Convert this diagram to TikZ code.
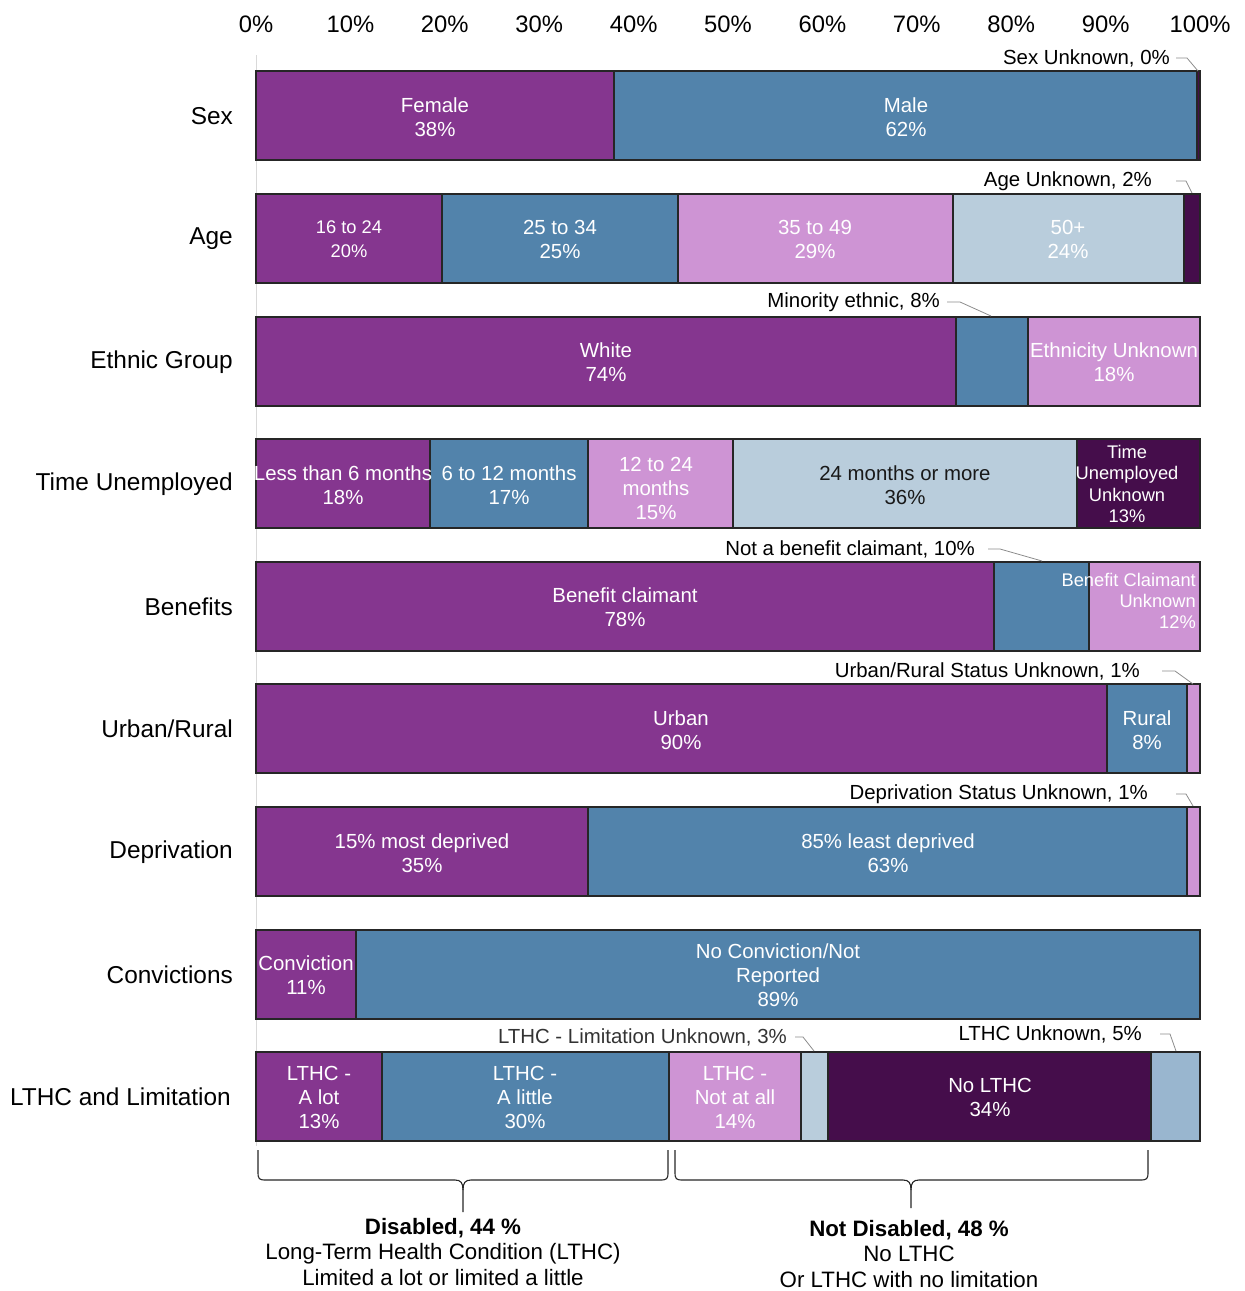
\documentclass[tikz,border=0pt]{standalone}
\usepackage{fontspec}
\setmainfont{Liberation Sans}
\definecolor{cP}{HTML}{85368F}
\definecolor{cB}{HTML}{5283AB}
\definecolor{cL}{HTML}{CE94D4}
\definecolor{cLB}{HTML}{B9CDDC}
\definecolor{cDP}{HTML}{450D4B}
\definecolor{cLU}{HTML}{99B6CF}
\newcommand\sgm[4]{\filldraw[seg,fill=#4] (#1,#3) rectangle (#2,#3+89);}
\begin{document}
\begin{tikzpicture}[x=1pt,y=-1pt,
  seg/.style={draw=black!85,line width=1.1pt},
  lab/.style={text=white,align=center,inner sep=0pt,font=\fontsize{20.4}{24}\selectfont},
  slab/.style={text=white,align=center,inner sep=0pt,font=\fontsize{18.3}{21.4}\selectfont},
  ann/.style={inner sep=0pt,font=\fontsize{20.4}{24}\selectfont,anchor=east},
  cat/.style={inner sep=0pt,font=\fontsize{24.4}{28}\selectfont,anchor=east},
  axl/.style={inner sep=0pt,font=\fontsize{23.8}{28}\selectfont},
  leader/.style={draw=black!45,line width=0.8pt},
  bracel/.style={draw=black!85,line width=1.1pt},
  foot/.style={inner sep=0pt,align=center,font=\fontsize{22.3}{25.5}\selectfont},
]
\useasboundingbox (0,0) rectangle (1245,1291);
% axis
\draw[black!15,line width=1pt] (256,55) -- (256,1146);
\foreach \i/\t in {0/0,1/10,2/20,3/30,4/40,5/50,6/60,7/70,8/80,9/90,10/100}
  \node[axl] (ax\i) at ({256+94.4*\i},24) {\t\%};
% category labels
\node[cat] (cSex) at (233,116) {Sex};
\node[cat] (cAge) at (233,239) {Age};
\node[cat] (cEth) at (233,362) {Ethnic Group};
\node[cat] (cTime) at (233,484) {Time Unemployed};
\node[cat] (cBen) at (233,607) {Benefits};
\node[cat] (cUrb) at (233,729) {Urban/Rural};
\node[cat] (cDep) at (233,852) {Deprivation};
\node[cat] (cCon) at (233,975) {Convictions};
\node[cat] (cLTHC) at (231,1097) {LTHC and Limitation};
% row 1
\sgm{256}{614}{71}{cP}\sgm{614}{1197}{71}{cB}\sgm{1197}{1200}{71}{cDP}
% row 2
\sgm{256}{442}{194}{cP}\sgm{442}{678}{194}{cB}\sgm{678}{953}{194}{cL}\sgm{953}{1184}{194}{cLB}\sgm{1184}{1200}{194}{cDP}
% row 3
\sgm{256}{956}{317}{cP}\sgm{956}{1028}{317}{cB}\sgm{1028}{1200}{317}{cL}
% row 4
\sgm{256}{430}{439}{cP}\sgm{430}{588}{439}{cB}\sgm{588}{733}{439}{cL}\sgm{733}{1077}{439}{cLB}\sgm{1077}{1200}{439}{cDP}
% row 5
\sgm{256}{994}{562}{cP}\sgm{994}{1089}{562}{cB}\sgm{1089}{1200}{562}{cL}
% row 6
\sgm{256}{1107}{684}{cP}\sgm{1107}{1187}{684}{cB}\sgm{1187}{1200}{684}{cL}
% row 7
\sgm{256}{588}{807}{cP}\sgm{588}{1187}{807}{cB}\sgm{1187}{1200}{807}{cL}
% row 8
\sgm{256}{356}{930}{cP}\sgm{356}{1200}{930}{cB}
% row 9
\sgm{256}{382}{1052}{cP}\sgm{382}{669}{1052}{cB}\sgm{669}{801}{1052}{cL}\sgm{801}{828}{1052}{cLB}\sgm{828}{1151}{1052}{cDP}\sgm{1151}{1200}{1052}{cLU}
% in-bar labels
\node[lab] (lFem) at (435,117) {Female\\38\%};
\node[lab] (lMal) at (906,117) {Male\\62\%};
\node[lab,font=\fontsize{18.3}{24}\selectfont] (lA1) at (349,239) {16 to 24\\20\%};
\node[lab] (lA2) at (560,239) {25 to 34\\25\%};
\node[lab] (lA3) at (815,239) {35 to 49\\29\%};
\node[lab] (lA4) at (1068,239) {50+\\24\%};
\node[lab] (lWhite) at (606,362) {White\\74\%};
\node[lab] (lEthU) at (1114,362) {Ethnicity Unknown\\18\%};
\node[lab] (lT1) at (343,485) {Less than 6 months\\18\%};
\node[lab] (lT2) at (509,485) {6 to 12 months\\17\%};
\node[lab] (lT3) at (656,488) {12 to 24\\months\\15\%};
\node[lab,text=black!90] (lT4) at (905,485) {24 months or more\\36\%};
\node[slab] (lT5) at (1127,484) {Time\\Unemployed\\Unknown\\13\%};
\node[lab] (lB1) at (625,607) {Benefit claimant\\78\%};
\node[slab,align=right,anchor=east] (lB3) at (1196,601) {Benefit Claimant\\Unknown\\12\%};
\node[lab] (lU1) at (681,730) {Urban\\90\%};
\node[lab] (lU2) at (1147,730) {Rural\\8\%};
\node[lab] (lD1) at (422,853) {15\% most deprived\\35\%};
\node[lab] (lD2) at (888,853) {85\% least deprived\\63\%};
\node[lab] (lC1) at (306,975) {Conviction\\11\%};
\node[lab] (lC2) at (778,975) {No Conviction/Not\\Reported\\89\%};
\node[lab] (lL1) at (319,1097) {LTHC -\\A lot\\13\%};
\node[lab] (lL2) at (525,1097) {LTHC -\\A little\\30\%};
\node[lab] (lL3) at (735,1097) {LTHC -\\Not at all\\14\%};
\node[lab] (lL5) at (990,1097) {No LTHC\\34\%};
% annotations with leaders
\node[ann] (aSex) at (1170,58) {Sex Unknown, 0\%};
\coordinate (pSex) at (1198,71);
\draw[leader] (aSex.east) ++(6,0) -- ++(11,0) -- (pSex);
\node[ann] (aAge) at (1152,181) {Age Unknown, 2\%};
\coordinate (pAge) at (1192,193);
\draw[leader] (aAge.east) ++(24,0) -- ++(10,0) -- (pAge);
\node[ann] (aEth) at (940,302) {Minority ethnic, 8\%};
\coordinate (pEth) at (991,316);
\draw[leader] (aEth.east) ++(7,0) -- ++(13,0) -- (pEth);
\node[ann] (aBen) at (975,549) {Not a benefit claimant, 10\%};
\coordinate (pBen) at (1042,561);
\draw[leader] (aBen.east) ++(13,0) -- ++(12,0) -- (pBen);
\node[ann] (aUrb) at (1140,671) {Urban/Rural Status Unknown, 1\%};
\coordinate (pUrb) at (1193,684);
\draw[leader] (aUrb.east) ++(22,0) -- ++(13,0) -- (pUrb);
\node[ann] (aDep) at (1148,794) {Deprivation Status Unknown, 1\%};
\coordinate (pDep) at (1193,806);
\draw[leader] (aDep.east) ++(28,0) -- ++(10,0) -- (pDep);
\node[ann,text=black!80] (aLim) at (787,1037) {LTHC - Limitation Unknown, 3\%};
\coordinate (pLim) at (814,1051);
\draw[leader] (aLim.east) ++(8,0) -- ++(8,0) -- (pLim);
\node[ann] (aLU) at (1142,1034) {LTHC Unknown, 5\%};
\coordinate (pLU) at (1176,1051);
\draw[leader] (aLU.east) ++(18,0) -- ++(10,0) -- (pLU);
% braces
\draw[bracel] (258,1150) -- (258,1172) .. controls (258,1179) and (259,1180) .. (266,1180) -- (455,1180) .. controls (461,1180) and (463,1183) .. (463,1190) -- (463,1212);
\draw[bracel] (668,1150) -- (668,1172) .. controls (668,1179) and (667,1180) .. (660,1180) -- (471,1180) .. controls (465,1180) and (463,1183) .. (463,1190);
\draw[bracel] (675,1150) -- (675,1172) .. controls (675,1179) and (676,1180) .. (683,1180) -- (903,1180) .. controls (909,1180) and (911,1183) .. (911,1190) -- (911,1208);
\draw[bracel] (1148,1150) -- (1148,1172) .. controls (1148,1179) and (1147,1180) .. (1140,1180) -- (919,1180) .. controls (913,1180) and (911,1183) .. (911,1190);
% footer texts
\node[foot] (fDis) at (443,1252) {\textbf{Disabled, 44 \%}\\Long-Term Health Condition (LTHC)\\Limited a lot or limited a little};
\node[foot] (fNot) at (909,1254) {\textbf{Not Disabled, 48 \%}\\No LTHC\\Or LTHC with no limitation};
\end{tikzpicture}
\end{document}
